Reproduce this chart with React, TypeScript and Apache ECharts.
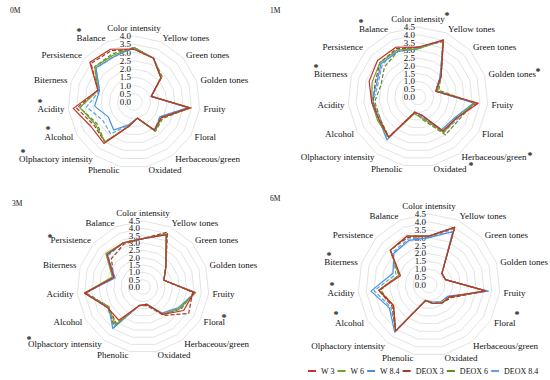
import React, { useEffect, useRef } from "react";
import * as echarts from "echarts";

const attributes = [
  "Color intensity", "Yellow tones", "Green tones", "Golden tones", "Fruity",
  "Floral", "Herbaceous/green", "Oxidated", "Phenolic", "Olphactory intensity",
  "Alcohol", "Acidity", "Biterness", "Persistence", "Balance",
];
const seriesNames = ["W 3", "W 6", "W 8.4", "DEOX 3", "DEOX 6", "DEOX 8.4"];
const panelLabels = ["0M", "1M", "3M", "6M"];
const axisMax = [4.0, 4.5, 4.5, 4.5];

// 0M
const m0W3 = [3.2, 2.9, 2.2, 1.1, 3.4, 1.9, 2.1, 1.0, 1.5, 3.1, 3.0, 3.7, 2.3, 3.6, 3.5];
const m0W6 = [3.3, 2.9, 2.2, 1.1, 3.5, 1.9, 2.2, 1.0, 1.5, 3.0, 2.7, 3.3, 2.3, 3.2, 3.1];
const m0W84 = [3.3, 2.9, 2.2, 1.1, 3.3, 1.8, 2.2, 1.0, 1.4, 2.1, 1.8, 2.4, 2.2, 3.1, 3.0];
const m0D3 = [3.2, 2.9, 2.2, 1.1, 3.4, 1.9, 2.1, 1.0, 1.5, 3.0, 2.8, 3.5, 2.3, 3.5, 3.4];
const m0D6 = [3.3, 2.9, 2.3, 1.1, 3.4, 2.0, 2.2, 1.0, 1.5, 3.0, 2.6, 3.3, 2.3, 3.2, 3.2];
const m0D84 = [3.3, 2.9, 2.2, 1.1, 3.3, 1.8, 2.1, 1.0, 1.4, 2.4, 2.2, 2.9, 2.2, 3.1, 3.0];
// 1M
const m1W3 = [3.2, 4.0, 2.0, 1.2, 3.9, 2.8, 2.7, 1.2, 1.0, 3.2, 2.9, 3.0, 3.3, 3.5, 3.5];
const m1W6 = [3.1, 4.0, 2.0, 1.3, 3.7, 2.8, 2.8, 1.4, 1.1, 3.2, 3.0, 3.0, 3.1, 3.3, 3.3];
const m1W84 = [3.1, 4.0, 1.9, 1.2, 3.6, 2.7, 2.6, 1.2, 1.0, 3.4, 2.9, 3.0, 2.8, 3.2, 3.2];
const m1D3 = [3.2, 3.9, 2.0, 1.2, 3.8, 2.8, 2.8, 1.2, 1.0, 3.2, 2.9, 2.9, 2.9, 3.3, 3.4];
const m1D6 = [3.1, 4.0, 2.0, 1.4, 3.6, 3.0, 3.0, 1.5, 1.0, 3.2, 2.8, 2.8, 2.5, 2.9, 3.2];
const m1D84 = [3.2, 4.0, 1.9, 1.2, 3.6, 2.9, 2.8, 1.3, 1.0, 3.3, 2.8, 2.9, 2.7, 3.1, 3.3];
// 3M
const m3W3 = [3.3, 3.9, 2.1, 1.5, 3.5, 3.2, 2.3, 1.2, 1.3, 2.8, 2.8, 4.0, 2.1, 3.3, 3.3];
const m3W6 = [3.3, 3.9, 2.1, 1.5, 3.6, 2.9, 2.3, 1.2, 1.3, 3.2, 2.7, 4.0, 2.2, 3.4, 3.3];
const m3W84 = [3.3, 3.9, 2.1, 1.5, 3.6, 2.8, 2.2, 1.2, 1.3, 3.5, 2.7, 4.0, 2.0, 3.3, 3.3];
const m3D3 = [3.3, 4.1, 2.1, 1.5, 3.4, 3.6, 2.4, 1.3, 1.3, 3.1, 2.7, 3.9, 2.1, 2.9, 3.2];
const m3D6 = [3.3, 4.0, 2.1, 1.5, 3.5, 3.0, 2.3, 1.2, 1.3, 3.3, 2.8, 4.0, 2.1, 3.3, 3.3];
const m3D84 = [3.3, 4.0, 2.1, 1.5, 3.5, 2.9, 2.3, 1.2, 1.3, 3.4, 2.7, 4.0, 2.1, 3.2, 3.3];
// 6M
const m6W3 = [3.1, 4.0, 1.1, 1.1, 3.6, 1.5, 1.4, 1.2, 1.0, 3.6, 2.6, 3.2, 1.9, 3.3, 3.4];
const m6W6 = [3.1, 4.0, 1.1, 1.1, 3.6, 1.5, 1.4, 1.2, 1.0, 3.6, 2.6, 3.2, 2.0, 3.3, 3.4];
const m6W84 = [3.0, 3.7, 1.1, 1.1, 3.8, 1.4, 1.3, 1.1, 1.0, 3.7, 2.9, 3.7, 2.4, 3.0, 3.1];
const m6D3 = [3.1, 4.0, 1.1, 1.1, 3.6, 1.6, 1.4, 1.2, 1.0, 3.6, 2.7, 3.2, 2.0, 3.3, 3.3];
const m6D6 = [3.1, 4.0, 1.1, 1.1, 3.6, 1.6, 1.4, 1.2, 1.0, 3.6, 2.6, 3.1, 2.0, 3.3, 3.4];
const m6D84 = [3.0, 3.9, 1.1, 1.1, 3.7, 1.5, 1.4, 1.2, 1.0, 3.6, 2.8, 3.5, 2.2, 3.1, 3.2];

const panelData = [
  [m0W3, m0W6, m0W84, m0D3, m0D6, m0D84],
  [m1W3, m1W6, m1W84, m1D3, m1D6, m1D84],
  [m3W3, m3W6, m3W84, m3D3, m3D6, m3D84],
  [m6W3, m6W6, m6W84, m6D3, m6D6, m6D84],
];

const colors = ["#C8302A", "#6FA22B", "#4A90DC", "#9A4420", "#5E8C22", "#5AA3E6"];
const dashed = [false, false, false, true, true, true];

const centers = [[134, 102], [418, 97], [143, 287], [429, 285]];
const radii = [66, 70, 66, 71];
const labelPos = [[10, 10], [270, 10], [12, 203], [270, 198]];
const starPos = [
  [79, 29], [40, 100], [48, 127], [23, 150],
  [447, 13], [361, 20], [316, 65], [538, 69], [530, 153], [471, 163],
  [50, 235], [224, 315], [29, 337],
  [329, 253], [332, 283], [336, 312], [517, 312],
];

const FONT = "'Liberation Serif', 'DejaVu Serif', serif";

// ECharts radar runs counter-clockwise; reorder so the chart reads clockwise
const order = [0, ...Array.from({ length: attributes.length - 1 }, (_, k) => attributes.length - 1 - k)];

const near = (a: number, b: number) => Math.abs(a - b) < 1e-6;

export default function App() {
  const ref = useRef<HTMLDivElement>(null);
  useEffect(() => {
    if (!ref.current) return;
    const chart = echarts.init(ref.current, undefined, { renderer: "svg" });
    const labelStyle = {
      margin: 3,
      fontSize: 9,
      fontFamily: FONT,
      color: "#111",
      showMinLabel: true,
      showMaxLabel: true,
      hideOverlap: false,
    };
    // main radars: grid, names and inner tick labels
    const mainRadars = panelLabels.map((_, i) => ({
      center: centers[i],
      radius: radii[i],
      startAngle: 90,
      shape: "polygon",
      splitNumber: Math.round(axisMax[i] / 0.5),
      nameGap: 4,
      axisName: { color: "#111", fontFamily: FONT, fontSize: 9 },
      indicator: order.map((j) =>
        j === 0
          ? { name: attributes[j], min: 0, max: axisMax[i], axisLabel: { show: true } }
          : { name: attributes[j], min: 0, max: axisMax[i] }
      ),
      axisLine: { show: false },
      axisTick: { show: false },
      splitArea: { show: false },
      splitLine: { lineStyle: { color: "#DCDCDC", width: 0.8 } },
      axisLabel: {
        ...labelStyle,
        show: false,
        formatter: (v: number) => (near(v, 0) || near(v, axisMax[i]) ? "" : v.toFixed(1)),
      },
    }));
    // overlay radars: only the min and max tick labels (avoids auto-hiding)
    const overlayRadars = panelLabels.map((_, i) => ({
      center: centers[i],
      radius: radii[i],
      startAngle: 90,
      shape: "polygon",
      splitNumber: Math.round(axisMax[i] / 0.5),
      axisName: { show: false },
      indicator: order.map((j) =>
        j === 0
          ? { name: "", min: 0, max: axisMax[i], axisLabel: { show: true } }
          : { name: "", min: 0, max: axisMax[i] }
      ),
      axisLine: { show: false },
      axisTick: { show: false },
      splitArea: { show: false },
      splitLine: { show: false },
      axisLabel: {
        ...labelStyle,
        show: false,
        formatter: (v: number) => (near(v, 0) || near(v, axisMax[i]) ? v.toFixed(1) : ""),
      },
    }));
    const series: any[] = [];
    panelData.forEach((sets, i) => {
      sets.forEach((vals, k) => {
        series.push({
          type: "radar",
          name: seriesNames[k],
          radarIndex: i,
          symbol: "none",
          z: 10 - k,
          lineStyle: {
            color: colors[k],
            width: 1.2,
            type: dashed[k] ? [4, 2] : "solid",
          },
          itemStyle: { color: colors[k] },
          data: [{ name: seriesNames[k], value: order.map((j) => vals[j]) }],
        });
      });
    });
    const graphic: any[] = [];
    panelLabels.forEach((t, i) =>
      graphic.push({
        type: "text",
        x: labelPos[i][0],
        y: labelPos[i][1],
        style: { text: t, fontSize: 7.5, fontFamily: FONT, fill: "#111", verticalAlign: "middle" },
      })
    );
    starPos.forEach((p) =>
      graphic.push({
        type: "text",
        x: p[0],
        y: p[1] + 2,
        style: { text: "*", fontSize: 10, fontWeight: "bold", fontFamily: FONT, fill: "#111", align: "center", verticalAlign: "middle" },
      })
    );
    chart.setOption({
      animation: false,
      backgroundColor: "#fff",
      radar: [...mainRadars, ...overlayRadars],
      series,
      graphic,
      legend: {
        data: seriesNames,
        left: 303,
        top: 362,
        icon: "rect",
        itemWidth: 8,
        itemHeight: 2,
        itemGap: 3,
        textStyle: { fontSize: 8, fontFamily: FONT, color: "#111" },
      },
    });
    return () => chart.dispose();
  }, []);
  return (
    <div
      ref={ref}
      style={{ position: "fixed", left: 0, top: 0, width: 550, height: 380 }}
    />
  );
}
